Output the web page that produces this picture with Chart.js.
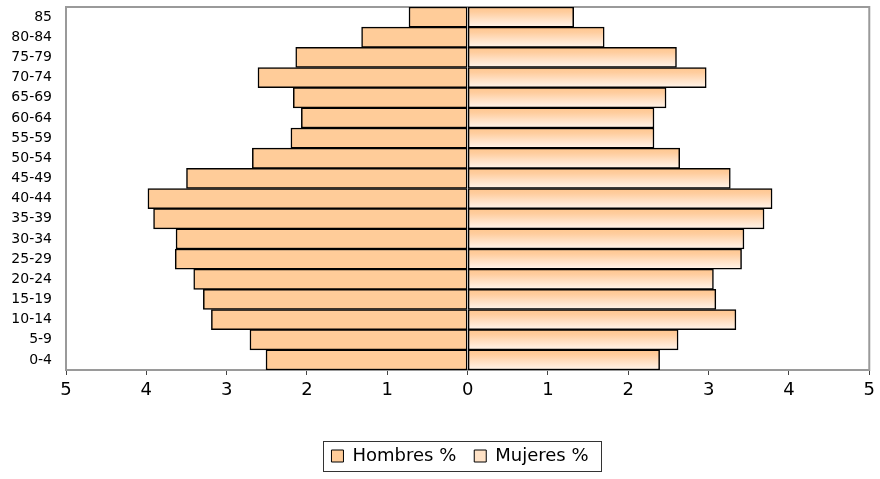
<!DOCTYPE html>
<html>
<head>
<meta charset="utf-8">
<script src="https://cdn.jsdelivr.net/npm/chart.js@4/dist/chart.umd.min.js"></script>
<style>
  html, body { margin: 0; padding: 0; background: #ffffff; }
  #wrap { width: 880px; height: 479px; position: relative; }
</style>
</head>
<body>
<div id="wrap"><canvas id="c"></canvas></div>
<script>
// Age groups, bottom to top
const ageGroups = ["0-4","5-9","10-14","15-19","20-24","25-29","30-34","35-39","40-44","45-49","50-54","55-59","60-64","65-69","70-74","75-79","80-84","85"];
// Hombres % (shown to the left)
const hombres = [2.51, 2.71, 3.19, 3.29, 3.41, 3.64, 3.63, 3.91, 3.98, 3.50, 2.68, 2.20, 2.07, 2.17, 2.61, 2.14, 1.32, 0.73];
// Mujeres % (shown to the right)
const mujeres = [2.39, 2.62, 3.34, 3.09, 3.06, 3.41, 3.44, 3.69, 3.79, 3.27, 2.64, 2.32, 2.32, 2.47, 2.97, 2.60, 1.70, 1.32];
const xTicks = [-5, -4, -3, -2, -1, 0, 1, 2, 3, 4, 5];

const FONT = "'DejaVu Sans', Verdana, sans-serif";

function womenGradient(context) {
  const chart = context.chart;
  const area = chart.chartArea;
  if (!area) return '#FFE0C2';
  const ctx = chart.ctx;
  const g = ctx.createLinearGradient(0, area.top, 0, area.bottom);
  const n = ageGroups.length;
  for (let k = 0; k < n; k++) {
    const a = k / n, b = (k + 1) / n;
    g.addColorStop(a, '#FFC68E');
    g.addColorStop(a + (b - a) * 0.25, '#FFCD9E');
    g.addColorStop(a + (b - a) * 0.6, '#FFE0C4');
    g.addColorStop(Math.max(a, b - 0.0001), '#FFF4EA');
  }
  return g;
}

const frames = {
  id: 'frames',
  afterLayout(chart) {
    const L = chart.legend;
    if (L) { L.left += 21; L.right += 21; }
  },
  beforeDatasetsDraw(chart) {
    const a = chart.chartArea, c = chart.ctx;
    c.save();
    c.strokeStyle = '#9a9a9a';
    c.lineWidth = 2;
    c.strokeRect(a.left, a.top, a.right - a.left, a.bottom - a.top);
    c.restore();
  },
  afterDraw(chart) {
    const L = chart.legend, c = chart.ctx;
    if (!L || !L.legendHitBoxes || !L.legendHitBoxes.length) return;
    const hb = L.legendHitBoxes;
    let minX = Infinity, maxX = -Infinity, minY = Infinity, maxY = -Infinity;
    hb.forEach(h => {
      minX = Math.min(minX, h.left); maxX = Math.max(maxX, h.left + h.width);
      minY = Math.min(minY, h.top); maxY = Math.max(maxY, h.top + h.height);
    });
    const x0 = Math.round(minX - 8), x1 = Math.round(maxX + 12);
    const y0 = Math.round(minY - 6), y1 = Math.round(maxY + 6);
    c.save();
    c.strokeStyle = '#333333';
    c.lineWidth = 1;
    c.strokeRect(x0 + 0.5, y0 + 0.5, x1 - x0, y1 - y0);
    c.restore();
  }
};

new Chart(document.getElementById('c'), {
  type: 'bar',
  data: {
    labels: ageGroups,
    datasets: [
      {
        label: 'Hombres %',
        data: hombres.map(v => -v),
        backgroundColor: '#FFCC99',
        borderColor: '#000000',
        borderWidth: 1.5,
        borderSkipped: false,
        barPercentage: 1,
        categoryPercentage: 1
      },
      {
        label: 'Mujeres %',
        data: mujeres,
        backgroundColor: womenGradient,
        borderColor: '#000000',
        borderWidth: 1.5,
        borderSkipped: false,
        barPercentage: 1,
        categoryPercentage: 1
      }
    ]
  },
  options: {
    indexAxis: 'y',
    responsive: true,
    maintainAspectRatio: false,
    animation: false,
    layout: { padding: { top: 7, right: 10, left: 8, bottom: 4 } },
    scales: {
      x: {
        stacked: true,
        min: -5, max: 5,
        afterBuildTicks: (s) => { s.ticks = xTicks.map(v => ({ value: v })); },
        afterFit: (s) => { s.height = 59; },
        ticks: {
          callback: (v) => Math.abs(v),
          color: '#000000',
          font: { family: FONT, size: 18 },
          padding: 5,
          maxRotation: 0
        },
        grid: { drawOnChartArea: false, drawTicks: true, tickLength: 5, color: '#444444' },
        border: { color: '#444444', width: 1.5 }
      },
      y: {
        stacked: true,
        reverse: true,
        afterFit: (s) => { s.width = 58; s.paddingTop = 0; s.paddingBottom = 0; },
        ticks: {
          color: '#000000',
          font: { family: FONT, size: 14 },
          padding: 14,
          autoSkip: false
        },
        grid: { display: false, drawTicks: false },
        border: { display: false }
      }
    },
    plugins: {
      legend: {
        position: 'bottom',
        labels: {
          color: '#000000',
          font: { family: FONT, size: 18 },
          boxWidth: 12,
          boxHeight: 12,
          padding: 18,
          useBorderRadius: false,
          generateLabels: (chart) => chart.data.datasets.map((ds, i) => ({
            text: ds.label,
            fillStyle: i === 0 ? '#FFCC99' : '#FFE2C6',
            strokeStyle: '#000000',
            lineWidth: 1,
            datasetIndex: i,
            hidden: false
          }))
        }
      },
      tooltip: { enabled: false }
    }
  },
  plugins: [frames]
});
</script>
</body>
</html>
